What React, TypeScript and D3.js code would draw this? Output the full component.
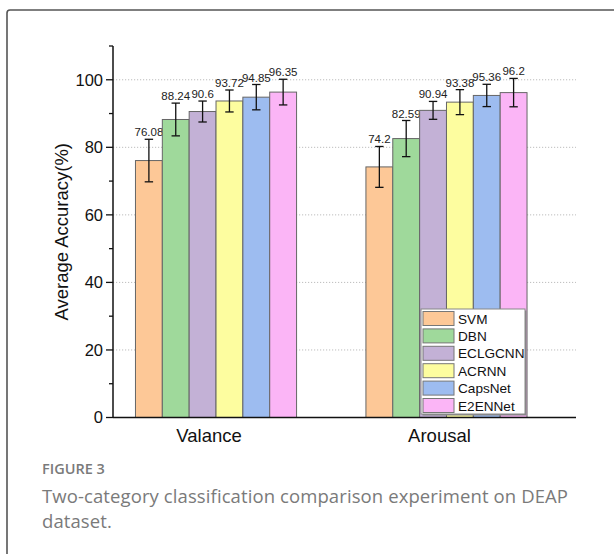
import React, { useEffect, useRef } from "react";
import * as d3 from "d3";

const categories = ["Valance", "Arousal"];
const methods = ["SVM", "DBN", "ECLGCNN", "ACRNN", "CapsNet", "E2ENNet"];
const valanceValues = [76.08, 88.24, 90.6, 93.72, 94.85, 96.35];
const arousalValues = [74.2, 82.59, 90.94, 93.38, 95.36, 96.2];
const valanceErrors = [6.3, 4.85, 3.1, 3.25, 3.75, 3.8];
const arousalErrors = [6.05, 5.35, 2.65, 3.7, 3.3, 4.2];
const colors = ["#FDC897", "#9FD99B", "#C3B1D6", "#FDFD9F", "#9DBCF0", "#FBB5F6"];
const yTicks = [0, 20, 40, 60, 80, 100];
const yMinorTicks = [10, 30, 50, 70, 90, 110];
const captionTitle = "FIGURE 3";
const captionLines = ["Two-category classification comparison experiment on DEAP", "dataset."];

export default function App() {
  const ref = useRef<SVGSVGElement>(null);
  useEffect(() => {
    const svg = d3.select(ref.current);
    svg.selectAll("*").remove();
    const W = 614, H = 554;
    svg.attr("width", W).attr("height", H);
    const font = "Arial, 'Liberation Sans', sans-serif";

    svg.append("rect").attr("x", 7).attr("y", 10).attr("width", 620).attr("height", 560)
      .attr("rx", 3).attr("fill", "#fff").attr("stroke", "#555").attr("stroke-width", 1.6);

    const y = d3.scaleLinear().domain([0, 110]).range([417.5, 46]);
    const x = d3.scaleLinear().domain([0.553, 2.562]).range([113, 576]);
    const barW = x(1.1165) - x(1);
    const series = [valanceValues, arousalValues];
    const errs = [valanceErrors, arousalErrors];

    const g = svg.append("g");
    g.selectAll(".grid").data(yTicks.filter(t => t > 0)).enter().append("line")
      .attr("x1", x(0.553)).attr("x2", x(2.562))
      .attr("y1", d => y(d)).attr("y2", d => y(d))
      .attr("stroke", "#bdbdbd").attr("stroke-width", 1).attr("stroke-dasharray", "1.2,1.8");

    categories.forEach((c, ci) => {
      const cx = x(ci + 1);
      methods.forEach((m, j) => {
        const v = series[ci][j];
        const e = errs[ci][j];
        const bx = cx + (j - 3) * barW;
        g.append("rect").attr("x", bx).attr("y", y(v)).attr("width", barW).attr("height", y(0) - y(v))
          .attr("fill", colors[j]).attr("stroke", "#666").attr("stroke-width", 1);
        const mx = bx + barW / 2;
        const cap = 4.2;
        g.append("line").attr("x1", mx).attr("x2", mx).attr("y1", y(v + e)).attr("y2", y(v - e))
          .attr("stroke", "#111").attr("stroke-width", 1.3);
        [v + e, v - e].forEach(t => g.append("line").attr("x1", mx - cap).attr("x2", mx + cap)
          .attr("y1", y(t)).attr("y2", y(t)).attr("stroke", "#111").attr("stroke-width", 1.3));
        g.append("text").attr("x", mx).attr("y", y(v + e) - 3).attr("text-anchor", "middle")
          .attr("font-family", font).attr("font-size", 11.5)
          .attr("fill", "#222").text(String(v));
      });
    });

    g.append("line").attr("x1", x(0.553)).attr("x2", x(2.562)).attr("y1", y(0)).attr("y2", y(0))
      .attr("stroke", "#111").attr("stroke-width", 1.5);
    g.append("line").attr("x1", x(0.553)).attr("x2", x(0.553)).attr("y1", y(0)).attr("y2", y(110))
      .attr("stroke", "#111").attr("stroke-width", 1.5);
    const x0 = x(0.553);
    yTicks.forEach(t => {
      g.append("line").attr("x1", x0 - 7).attr("x2", x0).attr("y1", y(t)).attr("y2", y(t))
        .attr("stroke", "#111").attr("stroke-width", 1.3);
      g.append("text").attr("x", x0 - 10).attr("y", y(t)).attr("dy", "0.36em").attr("text-anchor", "end")
        .attr("font-family", font).attr("font-size", 16.5).attr("fill", "#111")
        .text(String(t));
    });
    yMinorTicks.forEach(t => {
      g.append("line").attr("x1", x0 - 4).attr("x2", x0).attr("y1", y(t)).attr("y2", y(t))
        .attr("stroke", "#111").attr("stroke-width", 1.3);
    });
    categories.forEach((c, ci) => {
      g.append("text").attr("x", x(ci + 1) - 7).attr("y", 442).attr("text-anchor", "middle")
        .attr("font-family", font).attr("font-size", 18.5).attr("fill", "#111")
        .text(c);
    });
    g.append("text").attr("transform", `translate(68,${y(55)}) rotate(-90)`).attr("text-anchor", "middle")
      .attr("font-family", font).attr("font-size", 18.5).attr("fill", "#111")
      .text("Average Accuracy(%)");

    const lx = 421, ly = 309, lw = 104, lh = 105;
    g.append("rect").attr("x", lx + 1.5).attr("y", ly + 1.5).attr("width", lw).attr("height", lh)
      .attr("fill", "#888");
    g.append("rect").attr("x", lx).attr("y", ly).attr("width", lw).attr("height", lh)
      .attr("fill", "#fff").attr("stroke", "#888").attr("stroke-width", 1);
    methods.forEach((m, j) => {
      const ry = ly + 2.5 + j * 17.4;
      g.append("rect").attr("x", lx + 2).attr("y", ry).attr("width", 31).attr("height", 14)
        .attr("fill", colors[j]).attr("stroke", "#777").attr("stroke-width", 1);
      g.append("text").attr("x", lx + 37).attr("y", ry + 12).attr("font-family", font)
        .attr("font-size", 13.6).attr("fill", "#111").text(m);
    });

    svg.append("text").attr("x", 42).attr("y", 474).attr("font-family", "'Open Sans', Lato, sans-serif")
      .attr("font-size", 14.5).attr("font-weight", 600).attr("fill", "#7a7a7a").text(captionTitle);
    captionLines.forEach((l, i) => {
      svg.append("text").attr("x", 42).attr("y", 503 + i * 25).attr("font-family", "'Open Sans', Lato, sans-serif")
        .attr("font-size", 18.5).attr("letter-spacing", 0.1).attr("fill", "#7a7a7a").text(l);
    });
  }, []);
  return (
    <svg ref={ref} width={614} height={554} style={{ position: "absolute", left: 0, top: 0, background: "#fff" }} />
  );
}
